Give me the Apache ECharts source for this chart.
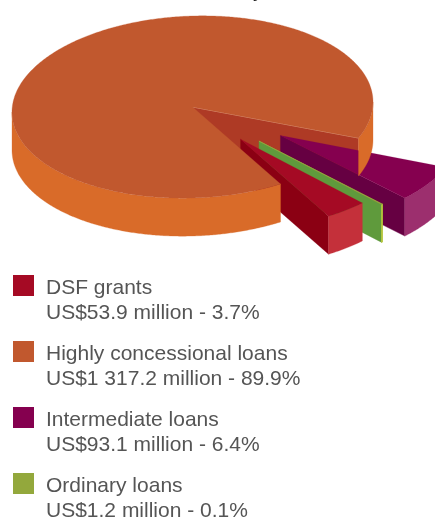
<!DOCTYPE html>
<html>
<head>
<meta charset="utf-8">
<style>html,body{margin:0;padding:0;background:#fff}#c{width:435px;height:517px}</style>
<script src="https://cdn.jsdelivr.net/npm/echarts@6/dist/echarts.min.js"></script>
</head>
<body>
<div id="c"></div>
<script>
// Financing by lending terms, US$ million
const categories = ['DSF grants', 'Highly concessional loans', 'Intermediate loans', 'Ordinary loans'];
const amounts = [53.9, 1317.2, 93.1, 1.2];
const amountLabels = ['US$53.9 million', 'US$1 317.2 million', 'US$93.1 million', 'US$1.2 million'];
const shareLabels = ['3.7%', '89.9%', '6.4%', '0.1%'];

// Face colours per category: top, cut wall, rim
const topColors = ['#a50a24', '#c1582e', '#85004f', '#93a83c'];
const wallColors = ['#8b0013', '#ae3a25', '#660042', '#5f9a3c'];
const rimColors = ['#c4303a', '#d96b29', '#9c2f6e', '#b5c63c'];

// Projected pie geometry; TILT leans the major axis of the ellipse
const CX = 192.5, CY = 107, RX = 180.5, RY = 91, DEPTH = 38, TILT = 0.028;
const DEG = Math.PI / 180;
const total = amounts.reduce((a, b) => a + b, 0);
const sweep = amounts.map(v => v / total * 360);

// Order of slices going round from the start angle, with spacing between the pulled-out ones
const START = 23.6, GAP = 0.4, MAIN_PAD = 0.5;
const purpleFrom = START;
const purpleTo = purpleFrom + sweep[2];
const greenFrom = purpleTo + GAP;
const greenTo = greenFrom + sweep[3];
const redFrom = greenTo + GAP;
const redTo = redFrom + sweep[0];
const ranges = [
  { from: redFrom, to: redTo, pull: 0.455, z: 4, edge: 0.3 },
  { from: redTo, to: purpleFrom - MAIN_PAD + 360, pull: 0, z: 10, edge: 0.3 },
  { from: purpleFrom, to: purpleTo, pull: 0.595, z: 2, edge: 0.3 },
  { from: greenFrom, to: greenTo, pull: 0.54, z: 3, edge: 1 }
];

function pointAt(t, ox, oy, dy) {
  const dx = Math.cos(t * DEG) * RX;
  return [ox + dx, oy + Math.sin(t * DEG) * RY - TILT * dx + (dy || 0)];
}
function arc(a, b, ox, oy, dy) {
  const pts = [];
  const n = Math.max(2, Math.ceil(Math.abs(b - a) / 0.5));
  for (let i = 0; i <= n; i++) pts.push(pointAt(a + (b - a) * i / n, ox, oy, dy));
  return pts;
}
function poly(points, fill, z2, width) {
  return {
    type: 'polygon', z2, shape: { points },
    style: { fill, stroke: fill, lineWidth: width || 0.3 }
  };
}
// Rim between two angles, limited to the part that faces the viewer
function rim(a, b, ox, oy, fill, z2, width) {
  const out = [];
  for (const off of [0, 360]) {
    const from = Math.max(a, off), to = Math.min(b, off + 180);
    if (to > from) {
      out.push(poly(arc(from, to, ox, oy, 0).concat(arc(to, from, ox, oy, DEPTH)), fill, z2, width));
    }
  }
  return out;
}

function sliceItem(i) {
  return function () {
    const s = ranges[i];
    const mid = (s.from + s.to) / 2;
    const dx = Math.cos(mid * DEG) * RX * s.pull;
    const ox = CX + dx;
    const oy = CY + Math.sin(mid * DEG) * RY * s.pull - TILT * dx;
    const children = [];
    const e = pointAt(s.to, ox, oy);
    if (s.pull === 0) {
      // Cut wall of the large slice sits behind every pulled-out slice
      children.push(poly([[ox, oy], e, [e[0], e[1] + DEPTH], [ox, oy + DEPTH]], wallColors[i], 1));
      children.push({ type: 'polyline', z2: 1.5, shape: { points: [[ox, oy], e] },
        style: { stroke: '#e0a184', lineWidth: 0.8, fill: 'none' } });
      children.push(...rim(s.from, s.to, ox, oy, rimColors[i], 10));
      children.push(poly([[ox, oy]].concat(arc(s.from, s.to, ox, oy)), topColors[i], 11));
    } else {
      children.push(poly([[ox, oy], e, [e[0], e[1] + DEPTH], [ox, oy + DEPTH]], wallColors[i], s.z));
      children.push(...rim(s.from, s.to, ox, oy, rimColors[i], s.z + 0.1, s.edge));
      children.push(poly([[ox, oy]].concat(arc(s.from, s.to, ox, oy)), topColors[i], s.z + 0.2, s.edge * 0.7));
    }
    return { type: 'group', children };
  };
}

const series = categories.map((name, i) => ({
  type: 'custom',
  name,
  coordinateSystem: 'none',
  silent: true,
  animation: false,
  itemStyle: { color: topColors[i] },
  data: [amounts[i]],
  renderItem: sliceItem(i)
}));

const labelStyle = {
  fontFamily: '"Liberation Sans", Arial, sans-serif',
  fontSize: 21,
  lineHeight: 25,
  color: '#555'
};

const chart = echarts.init(document.getElementById('c'), null, { renderer: 'canvas' });
chart.setOption({
  animation: false,
  backgroundColor: '#fff',
  // Tail of the heading above the pie, which runs off the top edge
  graphic: [{
    type: 'text', x: 253, y: 2, silent: true,
    style: { text: 'y', fill: '#222', fontSize: 21, fontFamily: '"Liberation Sans", Arial, sans-serif', verticalAlign: 'bottom' }
  }],
  legend: {
    orient: 'vertical',
    left: 13,
    top: 245,
    height: 400,
    padding: 0,
    icon: 'rect',
    itemWidth: 21,
    itemHeight: 21,
    itemGap: -15,
    selectedMode: false,
    data: categories.map((name, i) => ({ name, itemStyle: { color: topColors[i] } })),
    // The blank first line keeps each swatch level with the category name
    formatter: name => {
      const i = categories.indexOf(name);
      return '{blank| }\n{line|' + name + '}\n{line|' + amountLabels[i] + ' - ' + shareLabels[i] + '}';
    },
    textStyle: {
      ...labelStyle,
      padding: [0, 0, 0, 7],
      rich: {
        blank: { ...labelStyle, lineHeight: 31, height: 31 },
        line: { ...labelStyle }
      }
    }
  },
  series
});
</script>
</body>
</html>
